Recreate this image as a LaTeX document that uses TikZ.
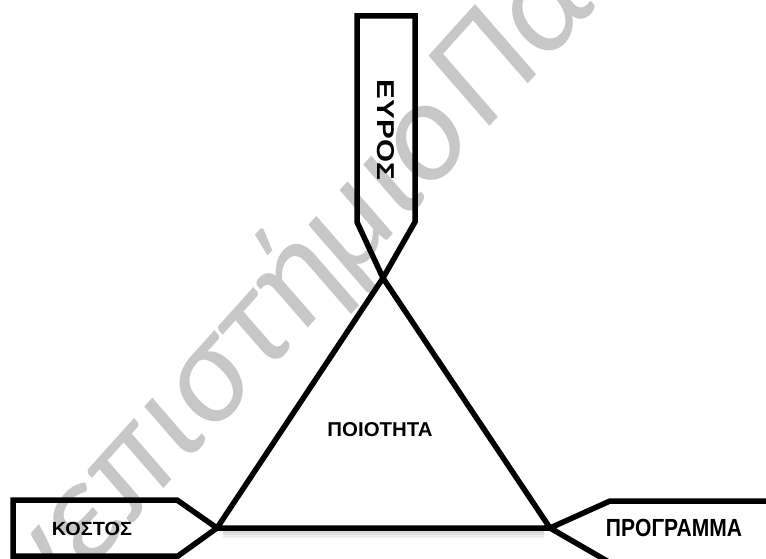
\documentclass[tikz,border=0pt]{standalone}
\usepackage{fontspec}
\setmainfont{Liberation Sans}
\newfontfamily\wmfont{Carlito}
\definecolor{wmgray}{gray}{0.78}
\begin{document}
\begin{tikzpicture}[x=1pt,y=-1pt,
  outline/.style={draw=black,line width=5.5pt,line join=miter},
  lbl/.style={inner sep=0pt,font=\bfseries}]
\useasboundingbox (0,0) rectangle (766,559);
\clip (0,0) rectangle (766,559);
\fill[white] (0,0) rectangle (766,559);
% watermark
\node[text=wmgray,rotate=48,anchor=base west,inner sep=0pt,
  font=\wmfont\itshape\fontsize{144}{144}\selectfont] (wm) at (479,139)
  {\llap{Πανεπιστήμιο}\hspace{0.06em}Πατρών};
% vertices
\coordinate (apex) at (383,278);
\coordinate (bl) at (217,528);
\coordinate (br) at (550,528);
% soft shadow under the base
\foreach \d/\o in {3/0.12,5/0.09,7/0.06,9/0.03}
  \draw[line width=3pt,draw=black,opacity=\o] ([xshift=6pt,yshift=-\d pt]bl) -- ([xshift=-6pt,yshift=-\d pt]br);
% top tab
\draw[outline] (357,16) -- (415,16) -- (415,222) -- (apex) -- (357,222) -- cycle;
% left tab
\draw[outline] (13,500) -- (177,500) -- (bl) -- (178,556) -- (13,556) -- cycle;
% right tab
\draw[outline] (790,501) -- (610,501) -- (br) -- (614,565) -- (790,565);
% triangle
\draw[outline] (apex) -- (bl) -- (br) -- cycle;
% labels
\node[lbl] (eyros) at (386,130) {\rotatebox{-90}{\resizebox{100pt}{17pt}{ΕΥΡΟΣ}}};
\node[lbl] (kostos) at (92,529) {\resizebox{80pt}{13.3pt}{ΚΟΣΤΟΣ}};
\node[lbl] (programma) at (674,528) {\resizebox{136pt}{17.3pt}{ΠΡΟΓΡΑΜΜΑ}};
\node[lbl] (poiotita) at (380,430) {\resizebox{105pt}{14pt}{ΠΟΙΟΤΗΤΑ}};
\end{tikzpicture}
\end{document}
